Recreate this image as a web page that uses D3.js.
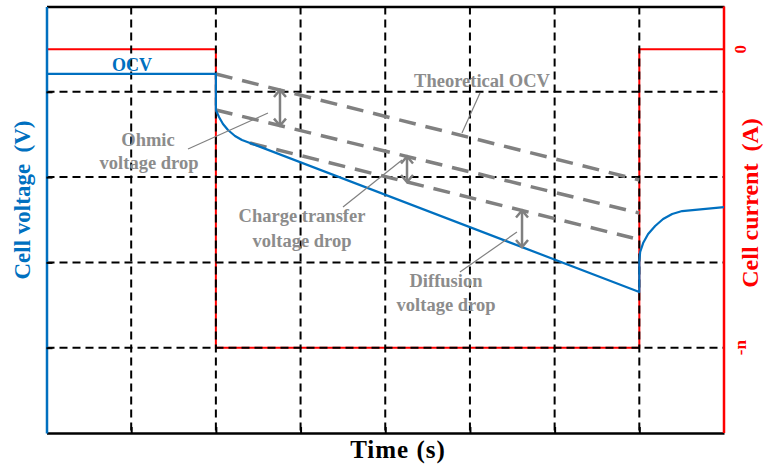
<!DOCTYPE html>
<html>
<head>
<meta charset="utf-8">
<script src="https://cdn.jsdelivr.net/npm/d3@7"></script>
<style>
  html, body { margin: 0; padding: 0; background: #fff; }
  svg { display: block; }
  text { font-family: "Liberation Serif", "Times New Roman", serif; font-weight: bold; white-space: pre; }
</style>
</head>
<body>
<svg id="chart" width="763" height="469"></svg>
<script>
// Pulse discharge of a cell: voltage response and applied current
// Time in arbitrary units (8 divisions), voltage in arbitrary units (5 divisions)
const timeTicks = [1, 2, 3, 4, 5, 6, 7];
const voltTicks = [1, 2, 3, 4];
const currentTicks = [0, -1];
const currentTickLabels = ["0", "-n"];

// Applied current: rest, constant discharge pulse, rest
const currentT = [0, 2, 2, 7, 7, 8];
const currentI = [0, 0, -1, -1, 0, 0];

// Measured cell voltage
const voltT = [0, 2, 2, 2.037, 2.084, 2.143, 2.226, 2.308, 2.403, 7.0, 7.0, 7.01, 7.045, 7.104, 7.187, 7.281, 7.388, 7.506, 8.0];
const voltV = [4.21, 4.21, 3.787, 3.705, 3.623, 3.552, 3.482, 3.435, 3.40, 1.653, 2.016, 2.122, 2.227, 2.333, 2.427, 2.509, 2.567, 2.602, 2.649];

// Reference (dashed) lines: theoretical OCV, after ohmic drop, after charge transfer
const theoT = [2, 7];
const theoV = [4.209, 2.966];
const ohmicT = [2, 7];
const ohmicV = [3.787, 2.579];
const ctT = [2.403, 6.925];
const ctV = [3.40, 2.286];

// Voltage drop arrows
const dropT = [2.757, 4.257, 5.615];
const dropTop = [4.021, 3.242, 2.609];
const dropBottom = [3.604, 2.943, 2.181];

const svg = d3.select("#chart");
const mLeft = 46.5, mRight = 724, mTop = 6.5, mBottom = 433;

const x = d3.scaleLinear().domain([0, 8]).range([mLeft, mRight]);
const y = d3.scaleLinear().domain([0, 5]).range([mBottom, mTop]);
// Current axis: 0 A sits at 4.5 voltage units, -n A on the first grid line
const yI = d3.scaleLinear().domain([-1, 0]).range([y(1), y(4.5)]);

const blue = "#0070C0", red = "#FF0000", gray = "#808080";

// Current trace (under the grid)
const currentLine = d3.line().x((d, i) => x(currentT[i])).y(d => yI(d));
svg.append("path").datum(currentI)
  .attr("d", currentLine)
  .attr("fill", "none").attr("stroke", red).attr("stroke-width", 2);

// Dashed grid
svg.append("g").selectAll("line").data(timeTicks).join("line")
  .attr("x1", d => x(d)).attr("x2", d => x(d))
  .attr("y1", mTop).attr("y2", mBottom)
  .attr("stroke", "#000").attr("stroke-width", 2).attr("stroke-dasharray", "8,5");
svg.append("g").selectAll("line").data(voltTicks).join("line")
  .attr("x1", mLeft).attr("x2", mRight)
  .attr("y1", d => y(d)).attr("y2", d => y(d))
  .attr("stroke", "#000").attr("stroke-width", 2).attr("stroke-dasharray", "8,5");

// Axes
const xAxis = svg.append("g").attr("transform", `translate(0,${mBottom})`)
  .call(d3.axisBottom(x).tickValues(timeTicks).tickSize(-6).tickSizeOuter(0).tickFormat(""));
xAxis.select(".domain").attr("stroke", "#000").attr("stroke-width", 2.5);
xAxis.selectAll(".tick line").attr("stroke", "#000").attr("stroke-width", 2);

const xTop = svg.append("g").attr("transform", `translate(0,${mTop})`)
  .call(d3.axisTop(x).tickValues([]).tickSizeOuter(0));
xTop.select(".domain").attr("stroke", "#000").attr("stroke-width", 2.5);

const yAxis = svg.append("g").attr("transform", `translate(${mLeft},0)`)
  .call(d3.axisLeft(y).tickValues(voltTicks).tickSize(-6).tickSizeOuter(0).tickFormat(""));
yAxis.select(".domain").attr("stroke", blue).attr("stroke-width", 2.5);
yAxis.selectAll(".tick line").attr("stroke", "#000").attr("stroke-width", 2);

const yRight = svg.append("g").attr("transform", `translate(${mRight},0)`)
  .call(d3.axisRight(yI).tickValues(currentTicks).tickSize(0).tickSizeOuter(0).tickFormat(""));
yRight.select(".domain").attr("stroke", red).attr("stroke-width", 2.5)
  .attr("d", `M0,${mTop}V${mBottom}`);

// Current tick labels, rotated
svg.append("g").selectAll("text").data(currentTicks).join("text")
  .attr("transform", d => `translate(746,${yI(d)}) rotate(-90)`)
  .attr("text-anchor", "middle")
  .attr("fill", red).attr("font-size", 17)
  .text((d, i) => currentTickLabels[i]);

// Reference dashed lines
const refLines = [[theoT, theoV], [ohmicT, ohmicV], [ctT, ctV]];
svg.append("g").selectAll("line").data(refLines).join("line")
  .attr("x1", d => x(d[0][0])).attr("y1", d => y(d[1][0]))
  .attr("x2", d => x(d[0][1])).attr("y2", d => y(d[1][1]))
  .attr("stroke", gray).attr("stroke-width", 3.5).attr("stroke-dasharray", "17,10");

// Voltage trace
const voltLine = d3.line().x((d, i) => x(voltT[i])).y(d => y(d));
svg.append("path").datum(voltV)
  .attr("d", voltLine)
  .attr("fill", "none").attr("stroke", blue).attr("stroke-width", 2.2)
  .attr("stroke-linejoin", "round");

// Double-headed drop arrows
const arrows = svg.append("g").attr("stroke", gray).attr("stroke-width", 2.5).attr("fill", "none");
dropT.forEach((t, i) => {
  const ax = x(t), y0 = y(dropTop[i]), y1 = y(dropBottom[i]);
  arrows.append("line").attr("x1", ax).attr("x2", ax).attr("y1", y0).attr("y2", y1);
  arrows.append("path").attr("d", `M${ax - 6},${y0 + 7}L${ax},${y0}L${ax + 6},${y0 + 7}`);
  arrows.append("path").attr("d", `M${ax - 6},${y1 - 7}L${ax},${y1}L${ax + 6},${y1 - 7}`);
});

// Annotation leader lines
const leaders = [
  [1.671, 3.329, 2.615, 3.751],
  [4.906, 3.517, 5.119, 3.986],
  [3.501, 2.649, 4.198, 3.200],
  [4.882, 1.887, 5.555, 2.356]
];
svg.append("g").selectAll("line").data(leaders).join("line")
  .attr("x1", d => x(d[0])).attr("y1", d => y(d[1]))
  .attr("x2", d => x(d[2])).attr("y2", d => y(d[3]))
  .attr("stroke", gray).attr("stroke-width", 1.2);

// Annotation text
const notes = [
  ["Theoretical OCV", 482, 87],
  ["Ohmic", 148, 146],
  ["voltage drop", 149, 169],
  ["Charge transfer", 302, 222],
  ["voltage drop", 302, 247],
  ["Diffusion", 446, 287],
  ["voltage drop", 446, 311]
];
svg.append("g").selectAll("text").data(notes).join("text")
  .attr("x", d => d[1]).attr("y", d => d[2])
  .attr("text-anchor", "middle")
  .attr("fill", "#8c8c8c").attr("font-size", 18.5)
  .text(d => d[0]);

svg.append("text").attr("x", 132).attr("y", 71)
  .attr("text-anchor", "middle").attr("fill", blue).attr("font-size", 18)
  .text("OCV");

// Axis titles
svg.append("text").attr("x", 398).attr("y", 458)
  .attr("text-anchor", "middle").attr("fill", "#000").attr("font-size", 25)
  .attr("letter-spacing", 1)
  .text("Time (s)");

svg.append("text")
  .attr("transform", "translate(30,200) rotate(-90)")
  .attr("text-anchor", "middle").attr("fill", blue).attr("font-size", 23)
  .text("Cell voltage  (V)");

svg.append("text")
  .attr("transform", "translate(758,203) rotate(-90)")
  .attr("text-anchor", "middle").attr("fill", red).attr("font-size", 24)
  .text("Cell current  (A)");
</script>
</body>
</html>
